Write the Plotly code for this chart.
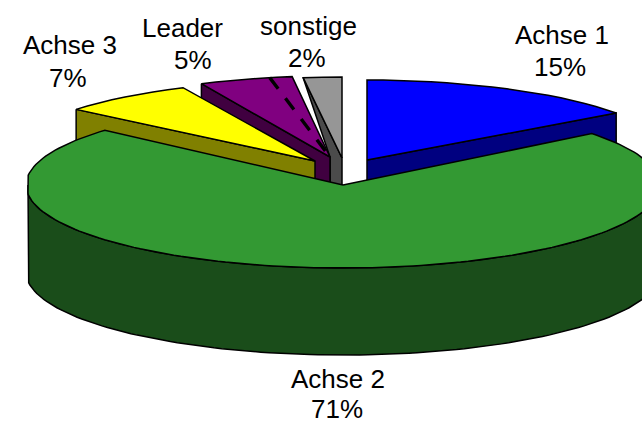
import numpy as np
import plotly.graph_objects as go

# Data
categories = ["Achse 1", "Achse 2", "Achse 3", "Leader", "sonstige"]
shares = [15, 71, 7, 5, 2]
leader_split = 3.8  # dashed divider inside the Leader slice, in percent

# Styles / layout
top_colors = ["#0000FF", "#339933", "#FFFF00", "#800080", "#969696"]
side_colors = ["#000080", "#1A4D1A", "#808000", "#400040", "#4B4B4B"]
apex_x = [367, 343, 315, 330, 342]
apex_y = [160, 185, 161, 157, 158]
radius_x = [308, 317, 310, 302, 310]
radius_y = [80, 83, 81, 81, 81]
depth = 87
left_limit = 28
front_angle_shift = [-2.3, 1.7]
label_x = [[562, 560], [338, 337], [69.5, 68], [182, 193], [308, 307]]
label_y = [[35, 67], [379, 409], [45, 78], [28, 60], [26, 58]]
FONT = dict(family="Liberation Sans, Arial, sans-serif", size=26, color="#000000")
LINE = dict(color="#000000", width=1.5)

cum = np.concatenate([[0], np.cumsum(shares)]) * 3.6


def rim(i, a0, a1, step=3.0):
    n = max(2, int(abs(a1 - a0) / step) + 1)
    t = np.radians(np.linspace(a0, a1, n))
    return apex_x[i] + radius_x[i] * np.sin(t), apex_y[i] - radius_y[i] * np.cos(t)


def poly(fig, x, y, fill, line=LINE):
    fig.add_trace(go.Scatter(x=list(x), y=list(y), mode="lines", fill="toself",
                             fillcolor=fill, line=line, hoverinfo="skip", showlegend=False))


fig = go.Figure()

# (index, slice) painted back to front
for i in [0, 4, 3, 2]:
    a0, a1 = cum[i], cum[i + 1]
    rx, ry = rim(i, a0, a1)
    ax, ay = apex_x[i], apex_y[i]
    if i == 4:
        # dark wall of the small slice, visible only beside the Leader slice
        px, py = apex_x[3], apex_y[3]
        poly(fig, [rx[0], ax, ax, px, px, rx[0]],
             [ry[0], ay, ay + depth, py + depth, py, ry[0]], side_colors[i])
    elif i == 0:
        poly(fig, [ax, rx[-1], rx[-1], ax, ax],
             [ay, ry[-1], ry[-1] + depth, ay + depth, ay], side_colors[i])
    else:
        poly(fig, [rx[0], ax, ax, rx[0], rx[0]],
             [ry[0], ay, ay + depth, ry[0] + depth, ry[0]], side_colors[i])
    poly(fig, [ax, *rx, ax], [ay, *ry, ay], top_colors[i])
    if i == 3:
        dx, dy = rim(3, cum[3] + leader_split * 3.6, cum[3] + leader_split * 3.6, 1)
        fig.add_trace(go.Scatter(x=[dx[0], ax], y=[dy[0], ay], mode="lines",
                                 line=dict(color="#000000", width=3.4, dash="14px,12px"),
                                 hoverinfo="skip", showlegend=False))

# Large front slice with its outer wall
i = 1
wx, wy = rim(i, 90, 270, 1.5)
wx = np.maximum(wx, left_limit)
poly(fig, [*wx, *wx[::-1], wx[0]],
     [*wy, *(wy[::-1] + depth), wy[0]], side_colors[i])
rx, ry = rim(i, cum[1] + front_angle_shift[0], cum[2] + front_angle_shift[1], 1.5)
rx = np.maximum(rx, left_limit)
poly(fig, [apex_x[i], *rx, apex_x[i]], [apex_y[i], *ry, apex_y[i]], top_colors[i])

for c, s, xs, ys in zip(categories, shares, label_x, label_y):
    for txt, x, y in zip([c, f"{s}%"], xs, ys):
        fig.add_annotation(x=x, y=y, text=txt, showarrow=False, font=FONT,
                           xanchor="center", yanchor="middle")

fig.update_layout(width=642, height=423, margin=dict(l=0, r=0, t=0, b=0),
                  paper_bgcolor="#FFFFFF", plot_bgcolor="#FFFFFF", showlegend=False)
fig.update_xaxes(range=[0, 642], visible=False, fixedrange=True)
fig.update_yaxes(range=[423, 0], visible=False, fixedrange=True)
fig.write_html("out.html", config=dict(displayModeBar=False),
               post_script="document.body.style.margin='0';document.body.style.overflow='hidden';")
